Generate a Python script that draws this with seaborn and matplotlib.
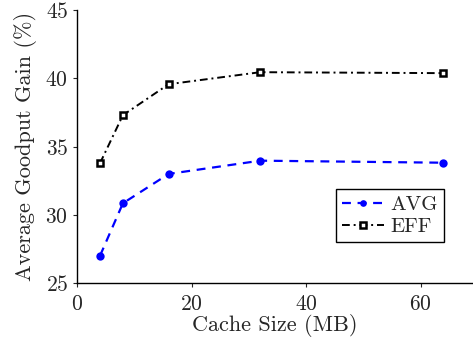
import matplotlib
matplotlib.use("Agg")
import matplotlib.pyplot as plt
import seaborn as sns
import pandas as pd

cache_mb = [4, 8, 16, 32, 64]
avg_gain = [27.0, 30.85, 33.0, 33.97, 33.82]
eff_gain = [33.78, 37.3, 39.57, 40.45, 40.38]

df = pd.DataFrame({'cache': cache_mb * 2,
                   'gain': avg_gain + eff_gain,
                   'scheme': ['AVG'] * 5 + ['EFF'] * 5})

sns.set_style("ticks")
plt.rcParams['font.family'] = ['cmr10', 'DejaVu Serif']
plt.rcParams['axes.formatter.use_mathtext'] = True
plt.rcParams['axes.unicode_minus'] = False

fig = plt.figure(figsize=(4.73, 3.47), dpi=100)
ax = fig.add_axes([0.163, 0.184, 0.835, 0.787])

sns.lineplot(data=df[df.scheme == 'AVG'], x='cache', y='gain', ax=ax,
             color='blue', linestyle=(0, (4, 3)), lw=1.6,
             marker='o', markersize=6, markeredgewidth=0, label='AVG')
sns.lineplot(data=df[df.scheme == 'EFF'], x='cache', y='gain', ax=ax,
             color='black', linestyle=(0, (4, 2, 1, 2)), lw=1.4,
             marker='s', markersize=5, markerfacecolor='white',
             markeredgecolor='black', markeredgewidth=1.8, label='EFF')

ax.set_xlim(0, 69)
ax.set_ylim(25, 45)
ax.set_xticks([0, 20, 40, 60])
ax.set_yticks([25, 30, 35, 40, 45])
ax.tick_params(labelsize=15.5, length=3, width=0.8, direction='out')
ax.tick_params(axis='x', pad=5)
ax.tick_params(axis='y', pad=3.5)
ax.set_xlabel('Cache Size (MB)', fontsize=16, labelpad=0)
ax.set_ylabel('Average Goodput Gain (%)', fontsize=16, labelpad=6)
for s in ['top', 'right']:
    ax.spines[s].set_visible(False)
for s in ['left', 'bottom']:
    ax.spines[s].set_color('black')
    ax.spines[s].set_linewidth(1.0)

leg = ax.legend(loc='lower right', bbox_to_anchor=(0.929, 0.15), fontsize=15,
                frameon=True, fancybox=False, handlelength=2.0,
                borderpad=0.3, labelspacing=0.15, handletextpad=0.3,
                borderaxespad=0, markerscale=0.8)
leg.get_frame().set_edgecolor('black')
leg.get_frame().set_linewidth(1.0)
leg.get_frame().set_alpha(1)

fig.savefig('out.png', dpi=100)
